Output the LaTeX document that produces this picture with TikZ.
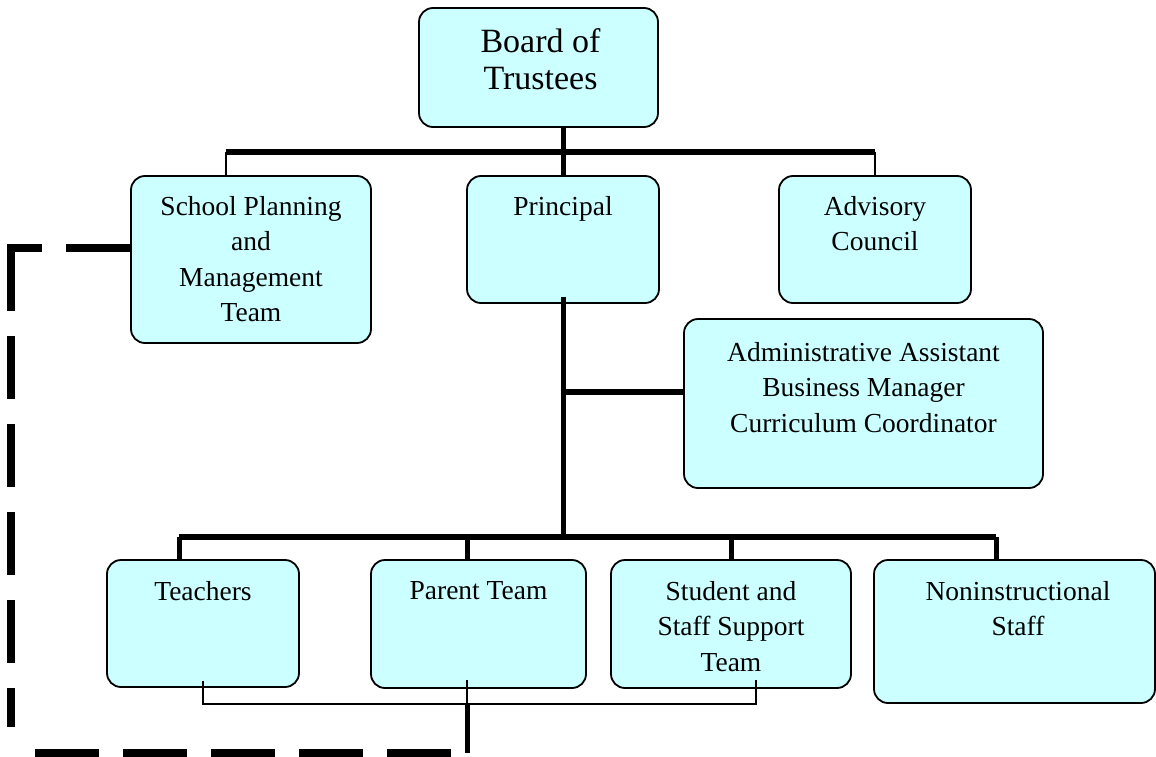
\documentclass[tikz,border=0pt]{standalone}
\usepackage{fontspec}
\setmainfont{Liberation Serif}
\usetikzlibrary{calc}
\definecolor{boxfill}{HTML}{CCFFFF}
\tikzset{
  box/.style={draw=black, line width=1.8, fill=boxfill, rounded corners=14, inner sep=0},
  txt/.style={anchor=north, align=center, inner sep=0, font=\fontsize{27.5}{35.5}\selectfont},
  bigtxt/.style={txt, font=\fontsize{34}{37}\selectfont},
  barline/.style={line width=6},
  stemline/.style={line width=5},
  thinline/.style={line width=1.5},
  dashline/.style={line width=8, dash pattern=on 63pt off 25pt},
}
\begin{document}
\begin{tikzpicture}[x=1pt,y=-1pt]
\useasboundingbox (0,0) rectangle (1156,757);

% boxes
\node[box, minimum width=239, minimum height=119] (board) at (538.5,67.5) {};
\node[box, minimum width=240, minimum height=167] (spm) at (251,259.5) {};
\node[box, minimum width=192, minimum height=127] (pr) at (563,239.5) {};
\node[box, minimum width=192, minimum height=127] (adv) at (875,239.5) {};
\node[box, minimum width=359, minimum height=169] (adm) at (863.5,403.5) {};
\node[box, minimum width=192, minimum height=127] (tch) at (203,623.5) {};
\node[box, minimum width=215, minimum height=128] (par) at (478.5,624) {};
\node[box, minimum width=240, minimum height=128] (stu) at (731,624) {};
\node[box, minimum width=281, minimum height=143] (non) at (1014.5,631.5) {};

% texts
\node[bigtxt] (tboard) at ($(board.north)+(2,21)$) {Board of\\Trustees};
\node[txt] (tspm) at ($(spm.north)+(0,21)$) {School Planning\\and\\Management\\Team};
\node[txt] (tpr) at ($(pr.north)+(0,21)$) {Principal};
\node[txt] (tadv) at ($(adv.north)+(0,21)$) {Advisory\\Council};
\node[txt] (tadm) at ($(adm.north)+(0,24)$) {Administrative Assistant\\Business Manager\\Curriculum Coordinator};
\node[txt] (ttch) at ($(tch.north)+(0,22)$) {Teachers};
\node[txt] (tpar) at ($(par.north)+(0,22)$) {Parent Team};
\node[txt] (tstu) at ($(stu.north)+(0,22)$) {Student and\\Staff Support\\Team};
\node[txt] (tnon) at ($(non.north)+(3.5,22)$) {Noninstructional\\Staff};

% top connectors
\coordinate (t1) at (226,151.5);
\coordinate (t2) at (adv.north |- t1);
\draw[stemline] (board.south -| pr.north) -- (pr.north);
\draw[barline] (t1) -- (t2);
\draw[thinline] (t1) -- (t1 |- spm.north);
\draw[thinline] (t2) -- (adv.north);

% principal spine
\coordinate (s0) at ($(pr.south)+(0,-7)$);
\coordinate (a1) at (563,392);
\coordinate (b1) at (179,537);
\coordinate (b2) at (467,537);
\coordinate (b3) at (731,537);
\coordinate (b4) at (996,537);
\draw[stemline] (s0) -- (s0 |- b1);
\draw[barline] (a1) -- (a1 -| adm.west);
\draw[barline] (b1) -- (b4);
\draw[stemline] (b1) -- (b1 |- tch.north);
\draw[stemline] (b2) -- (b2 |- par.north);
\draw[stemline] (b3) -- (b3 |- stu.north);
\draw[stemline] (b4) -- (b4 |- non.north);

% bottom thin connector
\coordinate (c1) at ($(tch.south)+(0,-7)$);
\coordinate (c2) at (467,680);
\coordinate (c3) at (756,680);
\coordinate (j) at (467,704);
\coordinate (d0) at (467,753);
\draw[thinline] (c1) -- (c1 |- j) -- (c3 |- j) -- (c3);
\draw[thinline] (c2) -- (j);
\draw[stemline] (j) -- (d0);

% dashed link to School Planning and Management Team
\coordinate (d1) at (11,248);
\coordinate (d2) at (11,727);
\coordinate (d3) at (35,753);
\draw[dashline, dash pattern=on 64pt off 24pt] (spm.west |- d1) -- (7,248);
\draw[dashline] (d1) -- (d2);
\draw[dashline, dash pattern=on 64pt off 24pt, dash phase=72pt] (d0) -- (d3);
\end{tikzpicture}
\end{document}
